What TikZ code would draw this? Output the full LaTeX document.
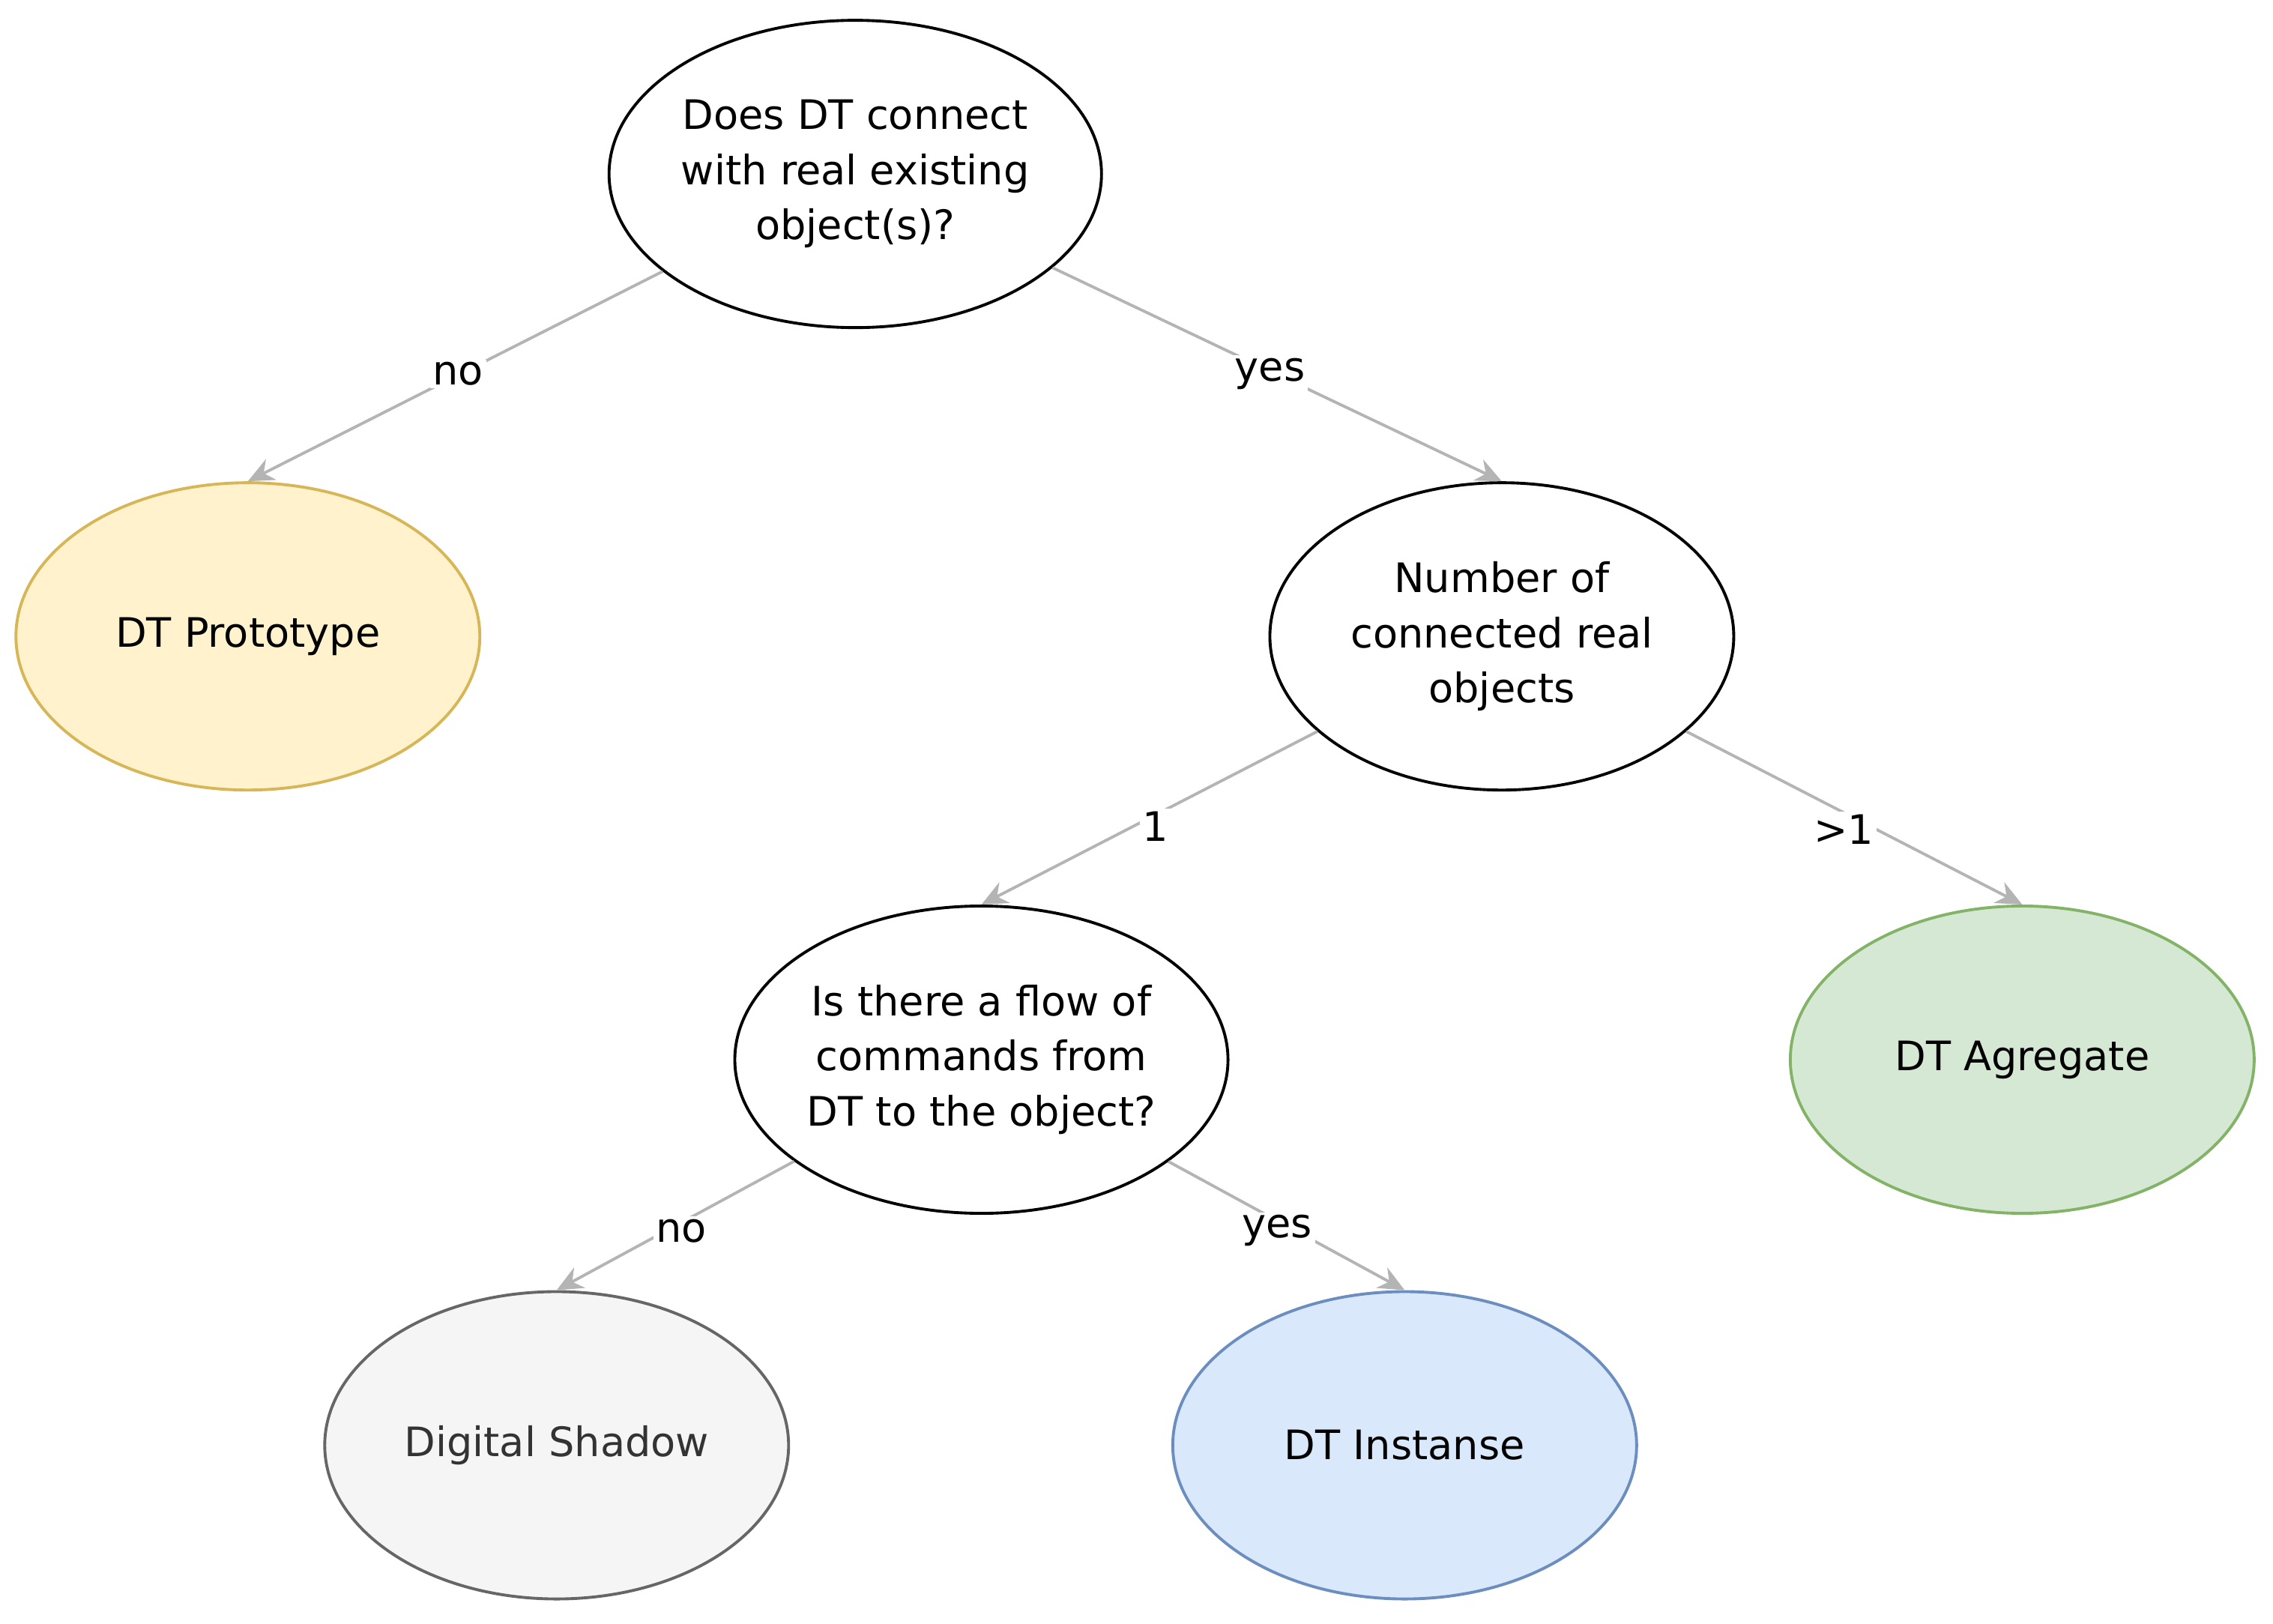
\documentclass[tikz,border=0pt]{standalone}
\usepackage{fontspec}
\setmainfont{DejaVu Sans}
\usetikzlibrary{shapes.geometric,arrows.meta}
\definecolor{edge}{RGB}{180,180,180}
\begin{document}
\begin{tikzpicture}[x=0.5pt,y=-0.5pt,
  el/.style={ellipse,draw=black,line width=1pt,minimum width=320*0.5pt,minimum height=212*0.5pt,inner sep=0pt,align=center,font=\fontsize{14}{19}\selectfont},
  con/.style={draw=edge,line width=1pt,-{Stealth[length=9pt,width=8pt]}},
  lab/.style={fill=white,inner sep=1pt,font=\fontsize{14}{16}\selectfont}]
\useasboundingbox (0,0) rectangle (1568,1120);
\node[el] (top) at (590,120) {Does DT connect\\with real existing\\object(s)?};
\node[el,fill={rgb,255:red,255;green,242;blue,204},draw={rgb,255:red,214;green,182;blue,86}] (proto) at (171,439) {DT Prototype};
\node[el] (num) at (1036,439) {Number of\\connected real\\objects};
\node[el] (flow) at (677,731) {Is there a flow of\\commands from\\DT to the object?};
\node[el,fill={rgb,255:red,213;green,232;blue,212},draw={rgb,255:red,130;green,179;blue,102}] (agg) at (1395,731) {DT Agregate};
\node[el,fill={rgb,255:red,245;green,245;blue,245},draw={rgb,255:red,102;green,102;blue,102},text={rgb,255:red,51;green,51;blue,51}] (shadow) at (384,997) {Digital Shadow};
\node[el,fill={rgb,255:red,218;green,232;blue,252},draw={rgb,255:red,108;green,142;blue,191}] (inst) at (969,997) {DT Instanse};
\draw[con] (top) -- (proto.north);
\draw[con] (top) -- (num.north);
\draw[con] (num) -- (flow.north);
\draw[con] (num) -- (agg.north);
\draw[con] (flow) -- (shadow.north);
\draw[con] (flow) -- (inst.north);
\node[lab] (l1) at (316,258) {no};
\node[lab] (l2) at (876,258) {yes};
\node[lab] (l3) at (797,570) {1};
\node[lab] (l4) at (1272,572) {>1};
\node[lab] (l5) at (470,849) {no};
\node[lab] (l6) at (881,849) {yes};
\end{tikzpicture}
\end{document}
